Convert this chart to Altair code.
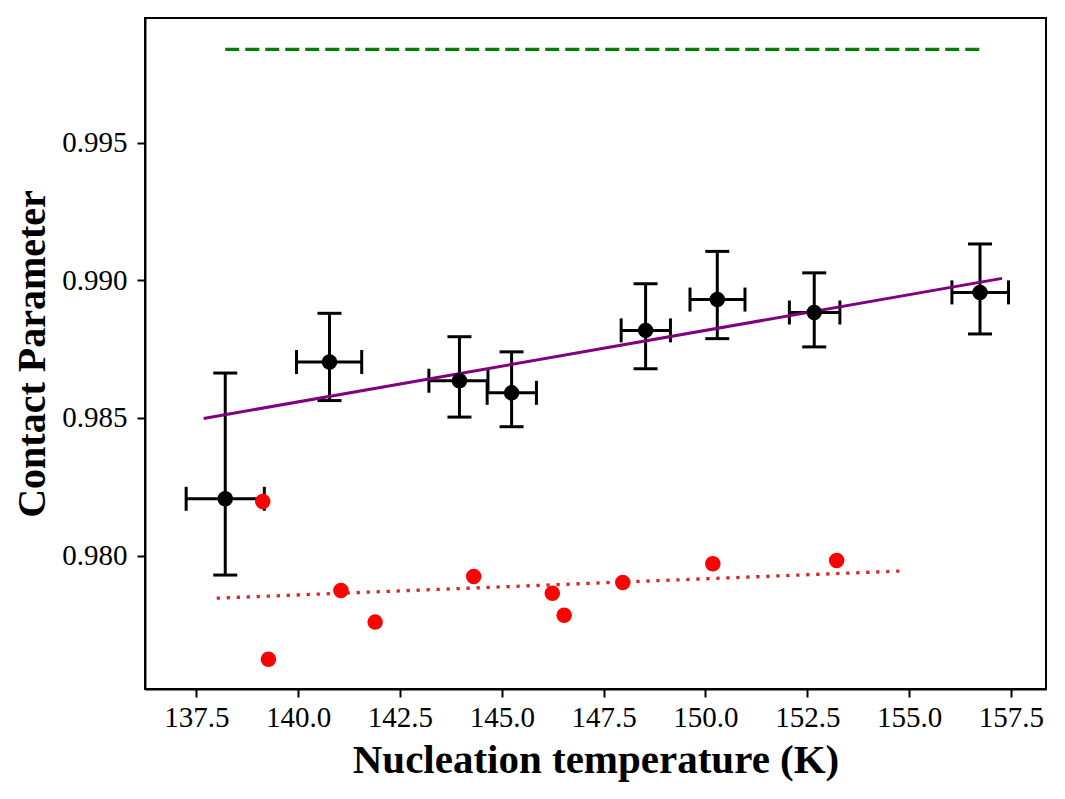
import altair as alt
import pandas as pd

# Black measurements with asymmetric error bars
temps = [138.21, 140.77, 143.96, 145.24, 148.53, 150.29, 152.67, 156.74]
cp = [0.98206, 0.98703, 0.98635, 0.98591, 0.98818, 0.98930, 0.98883, 0.98956]
t_lo = [137.25, 139.96, 143.21, 144.64, 147.93, 149.62, 152.06, 156.05]
t_hi = [139.17, 141.56, 144.66, 145.85, 149.14, 150.97, 153.30, 157.44]
cp_lo = [0.97929, 0.98563, 0.98503, 0.98468, 0.98679, 0.98788, 0.98758, 0.98805]
cp_hi = [0.98663, 0.98880, 0.98795, 0.98740, 0.98987, 0.99105, 0.99027, 0.99132]

# Red points
red_t = [139.13, 139.27, 141.05, 141.89, 144.31, 146.24, 146.53, 147.97, 150.18, 153.22]
red_cp = [0.98196, 0.97623, 0.97873, 0.97758, 0.97924, 0.97863, 0.97783, 0.97902, 0.97970, 0.97982]

# Lines
purple_t = [137.68, 157.28]
purple_cp = [0.98498, 0.99007]
redfit_t = [138.0, 154.85]
redfit_cp = [0.97845, 0.97944]
green_t = [138.21, 156.75]
green_cp = [0.99839, 0.99839]

x_ticks = [137.5, 140.0, 142.5, 145.0, 147.5, 150.0, 152.5, 155.0, 157.5]
y_ticks = [0.980, 0.985, 0.990, 0.995]

XDOM = [136.24, 158.36]
YDOM = [0.97515, 0.99953]

FONT = "Liberation Serif"

black = pd.DataFrame({"t": temps, "cp": cp, "t_lo": t_lo, "t_hi": t_hi,
                      "cp_lo": cp_lo, "cp_hi": cp_hi})
red = pd.DataFrame({"t": red_t, "cp": red_cp})
purple = pd.DataFrame({"t": purple_t, "cp": purple_cp})
redfit = pd.DataFrame({"t": redfit_t, "cp": redfit_cp})
green = pd.DataFrame({"t": green_t, "cp": green_cp})

xs = alt.Scale(domain=XDOM, nice=False, zero=False)
ys = alt.Scale(domain=YDOM, nice=False, zero=False)

xaxis = alt.Axis(values=x_ticks, format=".1f", title="Nucleation temperature (K)",
                 grid=False, labelFont=FONT, labelFontSize=29, labelColor="black",
                 titleFont=FONT, titleFontSize=41, titleFontWeight="bold", titleColor="black",
                 domainColor="black", domainWidth=2, tickColor="black", tickWidth=2,
                 tickSize=8, labelPadding=6, titlePadding=8)
yaxis = alt.Axis(values=y_ticks, format=".3f", title="Contact Parameter",
                 grid=False, labelFont=FONT, labelFontSize=29, labelColor="black",
                 titleFont=FONT, titleFontSize=40, titleFontWeight="bold", titleColor="black",
                 domainColor="black", domainWidth=2, tickColor="black", tickWidth=2,
                 tickSize=8, labelPadding=10, titlePadding=9)

base_b = alt.Chart(black)

vbar = base_b.mark_rule(color="black", strokeWidth=3).encode(
    x=alt.X("t:Q", scale=xs, axis=xaxis), y=alt.Y("cp_lo:Q", scale=ys, axis=yaxis), y2="cp_hi:Q")
hbar = base_b.mark_rule(color="black", strokeWidth=3).encode(
    x=alt.X("t_lo:Q", scale=xs), x2="t_hi:Q", y=alt.Y("cp:Q", scale=ys))
cap_top = base_b.mark_tick(color="black", opacity=1, orient="horizontal", size=24, thickness=3).encode(
    x=alt.X("t:Q", scale=xs), y=alt.Y("cp_hi:Q", scale=ys))
cap_bot = base_b.mark_tick(color="black", opacity=1, orient="horizontal", size=24, thickness=3).encode(
    x=alt.X("t:Q", scale=xs), y=alt.Y("cp_lo:Q", scale=ys))
cap_left = base_b.mark_tick(color="black", opacity=1, orient="vertical", size=24, thickness=3).encode(
    x=alt.X("t_lo:Q", scale=xs), y=alt.Y("cp:Q", scale=ys))
cap_right = base_b.mark_tick(color="black", opacity=1, orient="vertical", size=24, thickness=3).encode(
    x=alt.X("t_hi:Q", scale=xs), y=alt.Y("cp:Q", scale=ys))
bpts = base_b.mark_circle(color="black", opacity=1, size=240).encode(
    x=alt.X("t:Q", scale=xs), y=alt.Y("cp:Q", scale=ys))

pline = alt.Chart(purple).mark_line(color="#800080", strokeWidth=3).encode(
    x=alt.X("t:Q", scale=xs), y=alt.Y("cp:Q", scale=ys))
rline = alt.Chart(redfit).mark_line(color="#d62728", strokeWidth=3.3, strokeDash=[3.3, 6.7]).encode(
    x=alt.X("t:Q", scale=xs), y=alt.Y("cp:Q", scale=ys))
gline = alt.Chart(green).mark_line(color="#008000", strokeWidth=3.3, strokeDash=[14, 6]).encode(
    x=alt.X("t:Q", scale=xs), y=alt.Y("cp:Q", scale=ys))
rpts = alt.Chart(red).mark_circle(color="#ff0000", opacity=1, size=240).encode(
    x=alt.X("t:Q", scale=xs), y=alt.Y("cp:Q", scale=ys))

chart = alt.layer(
    vbar, hbar, cap_top, cap_bot, cap_left, cap_right, pline, bpts, rline, gline, rpts
).properties(
    width=901, height=671,
    autosize=alt.AutoSizeParams(type="none"),
    padding={"left": 137, "top": 10, "right": 8, "bottom": 95},
).configure(
    background="white",
    view=alt.ViewConfig(stroke="black", strokeWidth=2),
)

chart.save("out.html", embed_options={"renderer": "svg", "actions": False})
